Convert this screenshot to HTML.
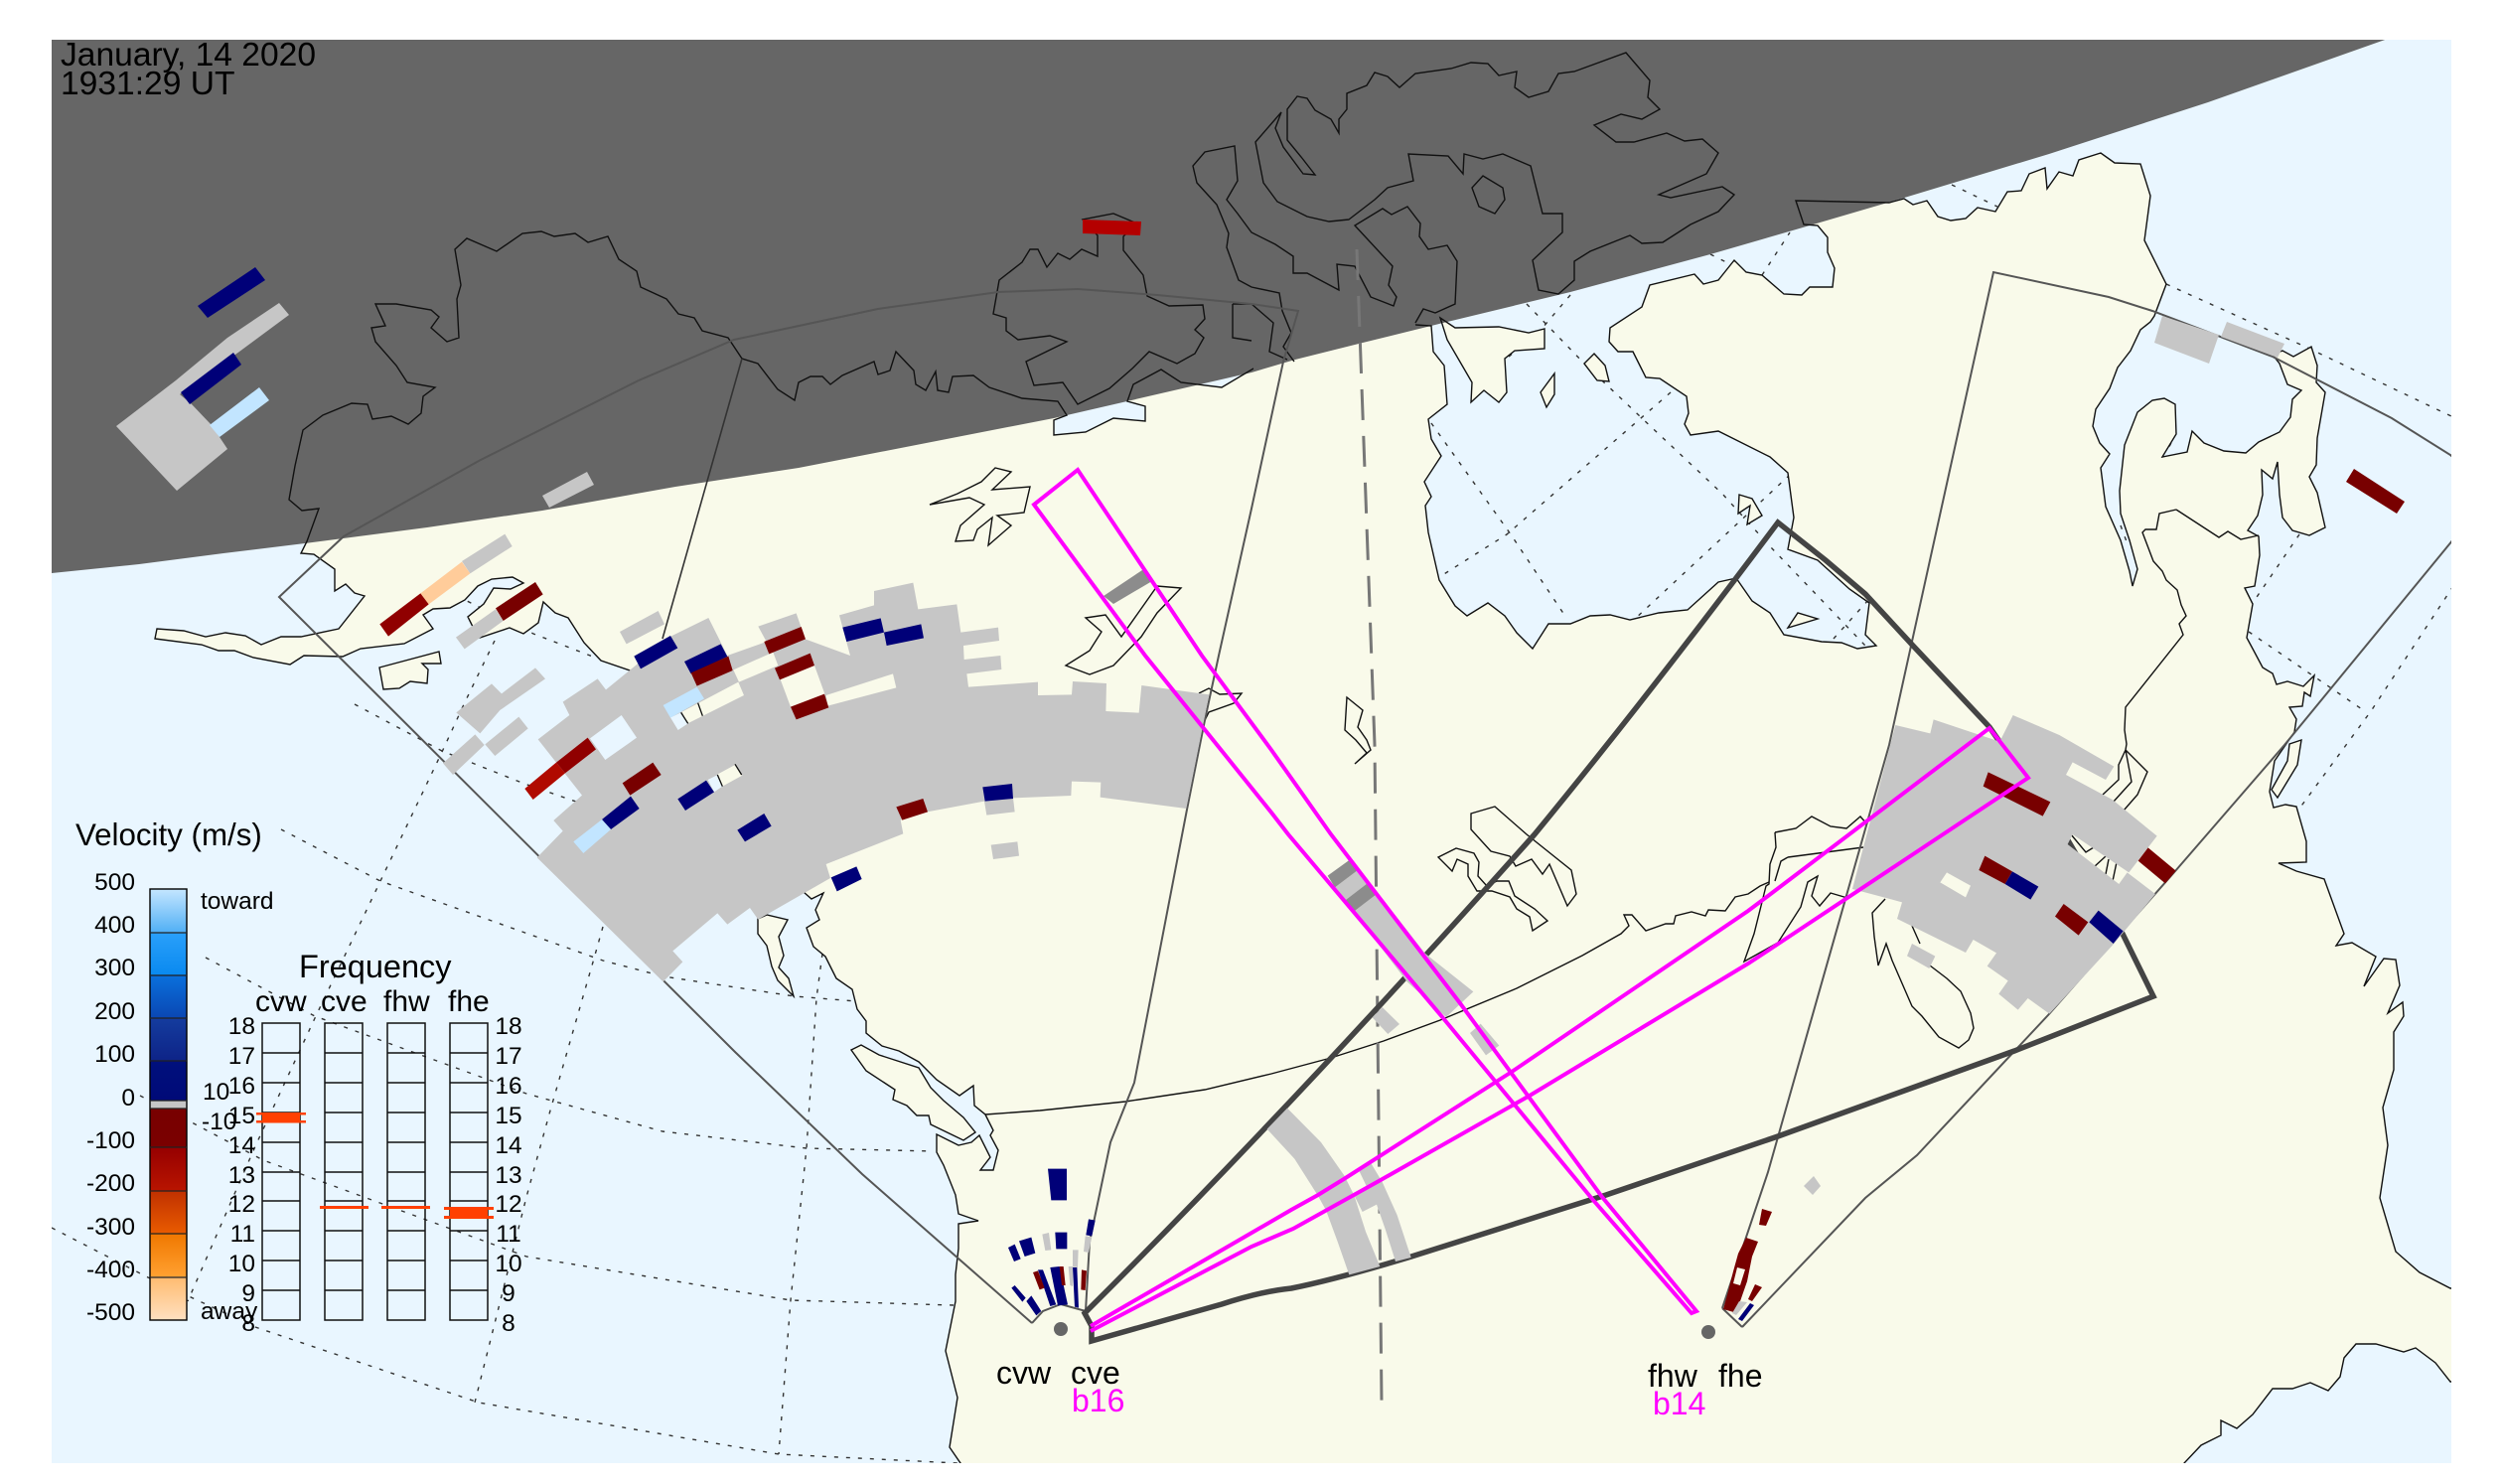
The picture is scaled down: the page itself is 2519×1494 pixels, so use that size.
<!DOCTYPE html>
<html><head><meta charset="utf-8"><style>html,body{margin:0;padding:0;background:#fff}svg{display:block}text{font-family:"Liberation Sans",sans-serif;fill:#000}</style></head><body>
<svg xmlns="http://www.w3.org/2000/svg" width="2519" height="1494" viewBox="0 0 2519 1494">
<defs>
<clipPath id="fr"><rect x="52" y="40" width="2416" height="1433"/></clipPath>
<linearGradient id="vb" x1="0" y1="895" x2="0" y2="1329" gradientUnits="userSpaceOnUse">
<stop offset="0" stop-color="#c4e6ff"/><stop offset=".1" stop-color="#52b0f5"/><stop offset=".101" stop-color="#2aa0fa"/><stop offset=".198" stop-color="#0a8af0"/><stop offset=".2" stop-color="#0a70dc"/><stop offset=".297" stop-color="#0a48b4"/><stop offset=".3" stop-color="#143c9e"/><stop offset=".396" stop-color="#0e2488"/><stop offset=".4" stop-color="#00107c"/><stop offset=".49" stop-color="#000a78"/><stop offset=".491" stop-color="#c6c6c6"/><stop offset=".51" stop-color="#c6c6c6"/><stop offset=".511" stop-color="#780000"/><stop offset=".598" stop-color="#7a0000"/><stop offset=".6" stop-color="#960000"/><stop offset=".698" stop-color="#b81400"/><stop offset=".7" stop-color="#c03000"/><stop offset=".797" stop-color="#e85a00"/><stop offset=".8" stop-color="#f07800"/><stop offset=".898" stop-color="#ffa030"/><stop offset=".9" stop-color="#ffbb70"/><stop offset="1" stop-color="#ffe0c0"/>
</linearGradient>
<g id="coast">
<path d="M967,1520L967,1473 956,1457 964,1407 952,1360 962,1310 962,1283 965,1257 965,1232 985,1229 965,1222 962,1203 950,1173 943,1160 943,1142 965,1153 978,1150 986,1143 997,1165 987,1178 1000,1178 1005,1158 997,1143 1000,1138 992,1122 981,1113 980,1093 966,1103 943,1087 925,1069 905,1058 888,1053 872,1040 872,1028 863,1016 858,996 842,985 831,963 819,953 812,934 825,926 821,916 829,899 817,905 809,898 770,860 727,792 722,780 693,728 686,717 640,677 605,665 588,647 572,622 559,617 547,606 542,627 527,638 513,632 483,642 475,629 471,621 487,608 497,592 514,593 527,587 516,581 495,583 481,590 468,604 453,612 436,613 426,619 436,633 407,648 363,653 345,661 306,660 292,669 255,662 236,655 220,655 203,649 156,643 158,633 185,635 207,641 227,637 247,640 263,649 283,641 303,641 341,633 367,600 357,597 348,588 337,595 337,573 316,558 303,557 309,545 321,512 304,514 291,503 297,469 305,433 325,418 354,406 370,407 375,422 394,419 411,427 424,416 426,399 438,390 410,385 399,368 378,344 374,330 388,328 378,306 399,306 434,312 442,319 434,330 450,344 462,340 460,301 464,287 458,251 470,240 500,253 526,235 545,233 558,238 579,235 592,244 612,238 623,261 641,273 645,289 671,301 683,316 699,320 707,333 733,340 747,361 763,366 783,392 800,403 804,385 816,379 828,379 836,387 848,378 880,364 884,377 896,373 902,354 920,373 922,387 932,393 942,374 944,393 955,395 959,379 980,378 996,390 1029,401 1065,404 1074,418 1061,423 1061,438 1093,435 1121,421 1153,424 1153,409 1135,404 1141,387 1169,372 1189,385 1230,390 1262,371 1303,359 1372,341 1425,327 1441,328 1443,354 1454,368 1457,407 1438,422 1441,442 1451,459 1434,485 1441,500 1435,509 1438,536 1449,584 1465,610 1477,620 1498,607 1515,620 1527,637 1543,653 1559,628 1581,628 1601,620 1621,619 1641,624 1670,617 1699,614 1730,586 1748,582 1764,605 1782,617 1796,639 1834,646 1854,647 1870,653 1889,650 1878,639 1882,607 1862,593 1830,564 1800,553 1806,521 1800,476 1782,460 1730,434 1702,438 1696,427 1700,416 1698,399 1671,381 1657,380 1644,354 1629,354 1620,344 1621,330 1653,309 1661,287 1706,276 1715,286 1730,282 1746,262 1758,274 1774,277 1796,296 1814,297 1822,289 1845,289 1847,270 1840,254 1840,239 1830,227 1816,226 1808,202 1902,204 1917,200 1926,206 1940,202 1951,218 1964,222 1979,220 1991,209 2009,213 2021,193 2035,192 2043,175 2059,169 2061,190 2073,173 2087,177 2093,161 2115,154 2129,164 2155,165 2165,197 2159,242 2181,286 2169,318 2165,324 2155,332 2145,353 2132,370 2124,391 2110,412 2107,429 2114,446 2124,457 2115,471 2120,510 2135,544 2144,575 2147,590 2152,573 2144,544 2135,517 2134,494 2139,448 2152,415 2167,403 2179,401 2190,407 2191,437 2177,460 2202,455 2207,434 2219,446 2239,454 2261,456 2274,445 2295,435 2306,420 2308,402 2317,393 2303,387 2295,366 2288,357 2298,353 2309,359 2327,349 2333,368 2332,385 2341,395 2333,441 2332,468 2325,480 2333,496 2341,531 2325,539 2308,534 2298,521 2295,498 2293,465 2288,482 2277,473 2278,498 2273,519 2263,534 2274,540 2275,559 2270,590 2260,592 2268,608 2262,642 2269,655 2278,672 2288,678 2292,689 2303,686 2319,691 2330,680 2326,701 2320,697 2318,711 2305,712 2312,724 2310,737 2290,766 2285,797 2289,813 2301,810 2312,812 2322,847 2322,868 2294,869 2312,877 2340,885 2360,940 2352,952 2368,949 2392,963 2380,993 2400,965 2412,966 2416,992 2404,1020 2419,1009 2420,1023 2410,1039 2410,1077 2399,1115 2404,1153 2396,1206 2412,1260 2436,1281 2467,1297 2530,1297 2530,1391 2467,1391 2452,1372 2432,1357 2420,1361 2392,1353 2372,1353 2360,1367 2356,1386 2344,1400 2326,1392 2308,1398 2288,1398 2268,1424 2252,1438 2236,1430 2236,1445 2216,1455 2199,1473 2199,1520Z"/>
<path d="M382,672L442,656 444,668 425,668 431,674 430,688 413,686 402,693 386,694Z"/>
<path d="M857,1057L867,1052 885,1062 925,1075 937,1095 950,1108 970,1125 982,1140 970,1148 937,1132 935,1123 923,1123 913,1113 899,1107 901,1097 872,1078Z"/>
<path d="M763,925L763,940 772,952 777,973 783,987 799,1003 794,985 784,974 789,962 784,943 793,926 772,921Z"/>
<path d="M1450,320L1465,330 1509,329 1539,335 1555,331 1555,351 1525,353 1515,361 1517,395 1509,405 1494,393 1481,405 1482,385 1457,342Z"/>
<path d="M1595,366L1605,356 1616,368 1620,384 1608,383Z"/>
<path d="M1551,395L1565,376 1565,397 1557,410Z"/>
<path d="M1751,498L1764,502 1774,519 1759,528 1762,509 1750,517Z"/>
<path d="M1800,632L1810,617 1830,623Z"/>
<path d="M2317,745L2313,770 2293,803 2287,795 2303,766 2305,749Z"/>
</g>
</defs>
<rect width="2519" height="1494" fill="#fff"/>
<g clip-path="url(#fr)">
<rect x="52" y="40" width="2416" height="1433" fill="#e9f6ff"/>
<g fill="none" stroke="#333" stroke-width="1.4" stroke-dasharray="4 8">
<path d="M357,709L445,756 528,789 580,807"/>
<path d="M283,835L383,887 607,967 668,983 800,1003 862,1008"/>
<path d="M207,964L317,1023 530,1101 667,1139 812,1156 940,1159"/>
<path d="M141,1103L193,1130 265,1168 530,1265 796,1309 960,1314"/>
<path d="M52,1236L149,1286 257,1336 482,1412 784,1464 964,1473"/>
<path d="M460,600L537,638 602,663"/>
<path d="M498,645L468,707 445,757 383,887 317,1025 257,1154 189,1310"/>
<path d="M607,933L598,965 554,1118 530,1205 478,1412"/>
<path d="M828,960L822,1005 812,1156 796,1309 784,1464"/>
<path d="M1537,306L1597,368 1653,421 1734,497 1782,550 1878,650"/>
<path d="M1441,426L1521,538 1577,622"/>
<path d="M1581,297L1553,330 1477,395"/>
<path d="M1682,395L1517,538 1449,581"/>
<path d="M1802,478L1645,624"/>
<path d="M1965,186L2011,208M1722,256L1746,268M1774,277L1802,234M1846,643L1882,603"/>
<path d="M2181,286L2321,349 2470,420M2191,435L2181,456M2315,538L2268,607M2264,636L2378,714M2470,590L2387,716 2315,814M2135,529L2142,548"/>
</g>
<use href="#coast" fill="#f9faea"/>
<polygon fill="#666" points="40,30 2420,30 2404,39 2223,103 2063,155 1914,200 1822,227 1722,256 1581,294 1453,325 1372,345 1304,362 1260,375 1061,421 804,471 680,490 546,514 430,531 307,547 225,557 140,568 52,577 40,578"/>
<use href="#coast" fill="none" stroke="#111" stroke-width="1.4"/>
<path d="M1262,371L1303,359 1372,341 1425,327" fill="none" stroke="#666" stroke-width="3.5"/>
<g fill="none" stroke="#111" stroke-width="1.4">
<path d="M1105,258L1105,237 1090,221 1121,215 1145,225 1131,238 1131,252 1151,277 1155,298 1177,308 1211,307 1213,321 1203,332 1212,340 1203,356 1185,366 1157,354 1140,371 1117,391 1085,407 1070,385 1041,388 1033,364 1074,344 1057,338 1025,342 1013,333 1013,320 1000,316 1006,282 1029,264 1037,251 1045,251 1054,269 1065,255 1077,261 1089,251Z"/>
<path d="M1358,221L1338,223 1316,218 1286,203 1272,184 1264,143 1290,113 1284,129 1292,148 1312,175 1324,176 1310,158 1296,141 1296,110 1306,97 1316,99 1324,111 1340,120 1348,134 1348,120 1356,110 1356,94 1376,86 1384,73 1397,77 1409,88 1425,74 1461,69 1481,63 1498,64 1509,76 1527,72 1525,88 1539,98 1559,92 1569,74 1585,72 1637,53 1661,81 1659,98 1671,110 1653,120 1632,115 1605,126 1627,143 1645,143 1678,134 1696,142 1714,140 1730,154 1718,175 1670,196 1682,199 1734,188 1746,196 1730,213 1702,226 1674,244 1653,245 1641,237 1601,253 1585,263 1585,282 1569,296 1549,292 1543,262 1573,234 1573,215 1553,215 1541,167 1513,155 1493,160 1474,155 1473,175 1458,157 1418,155 1423,182 1397,189 1384,201Z"/>
<path d="M1493,177L1513,189 1515,201 1505,215 1489,208 1482,189Z"/>
<path d="M1425,325L1433,311 1445,315 1465,306 1467,263 1457,247 1438,251 1429,238 1430,225 1417,208 1401,216 1392,210 1364,227 1402,268 1398,287 1406,299 1403,308 1380,299 1364,268 1346,266 1348,292 1316,275 1302,275 1302,258 1284,246 1260,234 1246,215 1235,201 1246,182 1243,147 1213,153 1201,167 1205,184 1225,206 1237,235 1235,249 1247,282 1260,289 1288,295 1291,313 1300,335 1292,349 1303,364"/>
<path d="M1241,306L1241,340 1260,343M1241,306L1260,306 1282,325 1278,354 1296,362"/>
<path d="M936,508L964,497 988,485 1002,471 1018,475 999,493 1037,490 1031,516 1004,519 1018,529 995,549 999,521 984,533 980,544 962,545 967,529 991,508 976,501Z"/>
<path d="M1093,622L1113,619 1129,641 1165,590 1189,592 1165,617 1149,641 1121,670 1097,679 1073,670 1097,655 1109,636Z"/>
<path d="M1207,698L1217,693 1228,699 1250,698 1242,708 1217,717 1213,725"/>
<path d="M2191,513L2174,517 2171,533 2160,533 2157,536 2168,565 2177,575 2181,584 2192,594 2196,609 2201,620 2194,628 2198,639 2140,712 2139,735 2141,749 2140,755"/>
<path d="M2191,513L2234,541 2243,535 2256,543 2274,539"/>
<path d="M2140,755L2162,777 2152,800 2138,816M2140,755L2146,787 2127,808M2140,755L2133,770 2133,785 2117,800"/>
<path d="M2085,840L2100,858 2108,853M2120,862L2108,873M2123,865L2120,880M2131,868L2127,887"/>
<path d="M1898,905L1885,919 1887,943 1891,972 1899,950 1905,967 1925,1013 1935,1023 1952,1044 1972,1055 1982,1047 1987,1035 1984,1020 1974,998 1960,985 1943,972"/>
<path d="M1925,932L1933,950"/>
<path d="M1787,838L1808,834 1824,822 1843,832 1859,834 1873,822 1880,830"/>
<path d="M1787,838L1788,853 1782,870 1781,890 1778,892 1766,940 1756,968 1790,949 1813,913 1820,888 1830,882 1824,902 1832,912 1843,899 1860,904"/>
<path d="M1800,863L1876,853M1800,863L1793,867 1787,887"/>
<path d="M992,1122L1047,1118 1133,1109 1213,1097 1280,1081 1340,1065 1393,1048 1450,1027 1527,995 1593,962 1632,940 1640,932 1635,921 1643,921 1657,937 1677,930 1685,930 1687,922 1703,918 1717,922 1720,916 1737,917 1747,903 1760,900 1772,892 1781,888"/>
<path d="M1448,863L1466,854 1484,859 1489,868 1488,882 1497,892 1507,887 1519,887 1525,902 1545,915 1558,927 1543,937 1540,923 1527,915 1520,903 1502,897 1487,897 1478,882 1478,870 1467,865 1462,877Z"/>
<path d="M1481,819L1505,812 1537,840 1582,876 1587,900 1578,912 1560,870 1553,880 1542,865 1526,872 1520,862 1501,857 1481,835Z"/>
<path d="M1356,702L1372,715 1367,732 1376,745 1380,755 1364,769 1376,758 1365,745 1354,735Z"/>
</g>
<!-- thin FOV lines -->
<g fill="none" stroke="#555" stroke-width="2">
<path d="M1039,1332L868,1182 740,1059 281,601 346,540 482,464 643,383 739,342 884,311 1005,294 1085,291 1165,297 1260,306 1307,313 1292,364 1260,512 1227,660 1213,725 1195,815 1142,1090 1118,1150 1097,1250 1093,1320 1068,1313 1050,1320 1039,1332"/>
<path d="M747,361L667,643" stroke="#333" stroke-width="1.6"/>
<path d="M1754,1336L1878,1206 1930,1163 2062,1022 2190,877 2300,750 2530,470"/>
<path d="M1734,1317L1780,1180 1902,750 2007,274 2123,299 2167,313 2288,359 2408,421 2467,458 2530,515"/>
<path d="M1734,1317L1754,1336"/>
</g>
<path d="M1366,251L1384,750 1391,1413" fill="none" stroke="#777" stroke-width="3" stroke-dasharray="31 16"/>
<path d="M1092,1322Q1300,1115 1545,840Q1660,700 1790,526L1838,564 1878,598 1926,650 2003,732 2082,846 2137,940 2168,1003 2028,1058 1790,1144 1617,1203 1421,1265Q1345,1288 1300,1297Q1270,1300 1230,1313L1099,1350 1099,1335Z" fill="none" stroke="#444" stroke-width="5.5"/>
<!-- West echoes -->
<g transform="translate(520,560) scale(.33333)">
<polygon fill="#c6c6c6" points="62,910 140,830 112,798 198,722 65,553 160,480 140,440 245,370 270,403 470,240 580,186 637,300 755,258 730,212 845,172 872,250 1008,300 975,178 1080,148 1080,105 1198,80 1213,160 1330,145 1342,230 1455,215 1458,255 1350,270 1352,312 1462,300 1465,342 1360,355 1365,395 1575,380 1575,420 1677,418 1680,378 1782,384 1780,468 1880,473 1888,390 2092,418 2023,762 1763,728 1765,683 1677,680 1675,723 1500,730 1505,772 1420,782 1413,740 1240,772 1160,797 1168,838 935,930 948,972 730,1097 705,1062 637,1112 607,1078 472,1192 502,1225 443,1285"/>
<polygon fill="#c6c6c6" points="312,228 428,165 447,205 332,265"/>
<polygon fill="#c6c6c6" points="1433,872 1513,862 1518,905 1440,915"/>
<polygon fill="#f9faea" points="655,343 775,290 790,330 672,380"/>
<polygon fill="#f9faea" points="797,372 900,330 932,418 828,455"/>
<polygon fill="#f9faea" points="935,420 1137,355 1147,397 940,452"/>
<polygon fill="#f9faea" points="500,470 670,380 687,420 517,505"/>
<polygon fill="#e9f6ff" points="465,487 497,472 518,505 488,525"/>
<polygon fill="#e9f6ff" points="222,550 317,480 363,548 268,615"/>
<polygon fill="#f9faea" points="608,658 660,630 682,662 622,695"/>
<polygon fill="#e9f6ff" points="578,675 608,660 622,695 597,712"/>
<polygon fill="#000078" points="355,302 465,240 487,277 375,340"/>
<polygon fill="#000078" points="507,318 617,265 637,303 527,355"/>
<polygon fill="#780000" points="527,352 640,302 653,345 545,392"/>
<polygon fill="#c2e5ff" points="443,450 545,395 567,430 465,488"/>
<polygon fill="#780000" points="748,258 860,213 873,250 763,295"/>
<polygon fill="#780000" points="780,338 887,293 900,330 795,373"/>
<polygon fill="#780000" points="828,455 930,416 943,457 845,493"/>
<polygon fill="#000078" points="985,215 1100,187 1110,230 997,258"/>
<polygon fill="#000078" points="1110,230 1222,205 1230,247 1118,270"/>
<polygon fill="#780000" points="320,685 412,623 437,660 343,722"/>
<polygon fill="#000078" points="258,795 345,725 371,762 285,825"/>
<polygon fill="#c2e5ff" points="172,862 258,795 285,825 202,897"/>
<polygon fill="#b00a00" points="25,702 120,623 147,655 50,735"/>
<polygon fill="#900000" points="120,623 215,548 240,583 147,655"/>
<polygon fill="#000078" points="487,733 573,677 597,712 510,768"/>
<polygon fill="#000078" points="667,827 748,777 770,815 690,862"/>
<polygon fill="#780000" points="1147,757 1228,732 1242,772 1165,797"/>
<polygon fill="#000078" points="1408,697 1497,687 1500,732 1415,740"/>
<polygon fill="#000078" points="950,970 1027,937 1043,975 968,1012"/>
<path d="M497,472L518,505M548,443L562,482M607,660L622,695M660,628L680,660" fill="none" stroke="#111" stroke-width="4"/>
</g>
<g transform="translate(140,520) scale(.33333)">
<polygon fill="#c6c6c6" points="1105,53 1127,90 1000,172 975,135"/>
<polygon fill="#ffcc9a" points="975,137 1000,172 875,265 850,232"/>
<polygon fill="#900000" points="850,232 875,265 753,362 727,325"/>
<polygon fill="#780000" points="1197,198 1220,235 1100,315 1077,277"/>
<polygon fill="#c6c6c6" points="1077,280 1100,315 983,400 957,365"/>
<polygon fill="#c6c6c6" points="1197,457 1227,490 1090,585 1030,655 958,592 1065,505 1095,535"/>
<polygon fill="#c6c6c6" points="1147,605 1175,640 1075,723 1045,688"/>
<polygon fill="#c6c6c6" points="1015,658 1043,690 948,780 918,745"/>
</g>
<!-- night echoes -->
<polygon fill="#c6c6c6" points="117,429 177,383 229,340 281,305 291,317 241,354 181,397 193,407 213,428 229,452 178,494"/>
<polygon fill="#000078" points="257,269 267,282 209,320 199,308"/>
<polygon fill="#000078" points="235,355 243,367 191,407 182,395"/>
<polygon fill="#c2e5ff" points="261,390 271,403 221,440 211,428"/>
<polygon fill="#c6c6c6" points="591,475 598,488 553,511 546,499"/>
<polygon fill="#b40000" points="1090,221 1149,223 1148,237 1090,235"/>
<polygon fill="#8c8c8c" points="1153,572 1160,585 1121,608 1111,600"/>
<polygon fill="#c6c6c6" points="2177,318 2234,337 2224,366 2169,345"/>
<polygon fill="#c6c6c6" points="2242,324 2300,346 2293,360 2236,339"/>
<polygon fill="#780000" points="2370,472 2421,505 2413,517 2362,485"/>
<!-- East echoes -->
<g transform="translate(1780,680) scale(.33333)">
<polygon fill="#c6c6c6" points="385,150 490,175 500,133 640,180 700,200 740,120 880,180 1045,275 1020,315 920,262 900,300 1040,375 1175,485 1090,595 920,480 905,510 1060,630 1085,595 1170,660 1045,810 850,1022 785,975 755,1010 697,962 725,922 662,878 690,838 620,798 597,837 390,735 405,685 255,645"/>
<polygon fill="#f9faea" points="520,625 540,595 612,635 597,670"/>
<polygon fill="#c6c6c6" points="435,810 505,848 487,885 420,847"/>
<polygon fill="#780000" points="665,292 853,382 830,425 650,335"/>
<polygon fill="#780000" points="655,545 738,592 716,630 637,588"/>
<polygon fill="#000078" points="738,592 817,638 793,677 716,630"/>
<polygon fill="#780000" points="893,690 967,745 938,785 867,728"/>
<polygon fill="#000078" points="998,710 1073,772 1043,810 970,745"/>
<polygon fill="#780000" points="1148,520 1232,590 1200,628 1118,560"/>
</g>
<!-- Center echoes -->
<g transform="translate(1260,840) scale(.33333)">
<polygon fill="#c6c6c6" points="252,160 325,105 525,360 670,475 588,552 470,445"/>
<polygon fill="#8c8c8c" points="230,125 295,78 325,105 252,160"/>
<polygon fill="#8c8c8c" points="285,198 350,148 378,180 310,232"/>
<polygon fill="#c6c6c6" points="395,522 447,573 412,603 365,553"/>
<polygon fill="#c6c6c6" points="692,572 748,638 708,667 660,600"/>
<polygon fill="#c6c6c6" points="108,827 210,930 280,1030 310,1090 345,1200 388,1305 295,1330 260,1230 225,1135 200,1090 130,980 47,890"/>
<polygon fill="#c6c6c6" points="322,1010 360,992 395,1050 440,1150 482,1278 435,1290 405,1195 378,1118 335,1140 310,1090 350,1068"/>
</g>
<!-- near radar cells -->
<g transform="translate(950,1150) scale(.33333)">
<polygon fill="#000078" points="315,80 372,80 372,175 325,175"/>
<polygon fill="#000078" points="228,298 265,287 277,335 245,345"/>
<polygon fill="#000078" points="195,318 215,308 233,352 213,360"/>
<polygon fill="#000078" points="337,272 373,272 373,322 340,322"/>
<polygon fill="#000078" points="438,232 458,236 448,283 430,280"/>
<polygon fill="#c6c6c6" points="298,278 318,273 325,325 307,327"/>
<polygon fill="#c6c6c6" points="428,283 448,285 438,333 423,330"/>
<polygon fill="#c6c6c6" points="390,325 407,325 405,378 390,377"/>
<polygon fill="#c6c6c6" points="377,375 390,375 390,435 382,432"/>
<polygon fill="#000078" points="322,378 350,375 375,490 345,493"/>
<polygon fill="#000078" points="285,385 300,385 340,490 322,495"/>
<polygon fill="#000078" points="390,378 403,378 408,500 396,497"/>
<polygon fill="#000078" points="250,480 265,463 295,510 280,523"/>
<polygon fill="#000078" points="205,440 215,432 248,470 238,482"/>
<polygon fill="#780000" points="270,393 285,388 305,440 290,445"/>
<polygon fill="#780000" points="350,375 362,375 368,432 357,432"/>
<polygon fill="#780000" points="417,385 432,388 428,447 415,445"/>
</g>
<polygon fill="#780000" points="1774,1217 1784,1220 1778,1234 1771,1233"/>
<polygon fill="#780000" points="1758,1246 1770,1250 1764,1265 1759,1290 1752,1310 1749,1322 1735,1318 1740,1300 1745,1280 1750,1262"/>
<polygon fill="#f9faea" points="1749,1276 1757,1278 1752,1294 1745,1292"/>
<polygon fill="#780000" points="1767,1293 1774,1296 1764,1310 1760,1308"/>
<polygon fill="#c6c6c6" points="1751,1310 1759,1311 1748,1324 1744,1322"/>
<polygon fill="#000078" points="1762,1312 1766,1314 1754,1330 1750,1328"/>
<polygon fill="#c6c6c6" points="1826,1184 1833,1194 1825,1203 1816,1194"/>
<!-- magenta beams -->
<g fill="none" stroke="#ff00ff" stroke-width="4">
<path d="M1098,1335L1250,1247 1300,1218 1327,1203 1353,1187 1522,1079 1760,917 1780,902 2003,733 2042,783 1780,957 1760,970 1540,1103 1390,1188 1302,1237 1260,1255 1098,1340"/>
<path d="M1085,473L1210,660 1280,755 1340,840 1470,1010 1613,1205 1708,1320 1703,1322 1603,1207 1453,1025 1297,840 1280,818 1153,660 1041,508Z"/>
</g>
<circle cx="1068" cy="1338" r="7" fill="#666"/>
<circle cx="1720" cy="1341" r="7" fill="#666"/>
</g>
<!-- Colorbar -->
<rect x="151" y="895" width="37" height="434" fill="url(#vb)" stroke="#000" stroke-width="1.4"/>
<path d="M151,939H188M151,982H188M151,1025H188M151,1068H188M151,1108H188M151,1116H188M151,1155H188M151,1199H188M151,1242H188M151,1286H188" stroke="#222" stroke-width="1.3" fill="none"/>
<g font-size="24.5" text-anchor="end">
<text x="136" y="896">500</text><text x="136" y="939">400</text><text x="136" y="982">300</text><text x="136" y="1026">200</text><text x="136" y="1069">100</text><text x="136" y="1113">0</text><text x="136" y="1156">-100</text><text x="136" y="1199">-200</text><text x="136" y="1243">-300</text><text x="136" y="1286">-400</text><text x="136" y="1329">-500</text>
</g>
<text x="76" y="851" font-size="31.3">Velocity (m/s)</text>
<text x="202" y="915" font-size="24.5">toward</text>
<text x="202" y="1328" font-size="24.5">away</text>
<text x="204" y="1107" font-size="24.5">10</text>
<text x="203" y="1137" font-size="24.5">-10</text>
<!-- Frequency panel -->
<text x="301" y="984" font-size="32.5">Frequency</text>
<g font-size="30"><text x="257" y="1018">cvw</text><text x="323" y="1018">cve</text><text x="386" y="1018">fhw</text><text x="451" y="1018">fhe</text></g>
<g fill="none" stroke="#111" stroke-width="1.5">
<rect x="264" y="1030" width="38" height="299"/><rect x="327" y="1030" width="38" height="299"/><rect x="390" y="1030" width="38" height="299"/><rect x="453" y="1030" width="38" height="299"/>
<path d="M264,1060H302M264,1090H302M264,1120H302M264,1150H302M264,1180H302M264,1209H302M264,1239H302M264,1269H302M264,1299H302M327,1060H365M327,1090H365M327,1120H365M327,1150H365M327,1180H365M327,1209H365M327,1239H365M327,1269H365M327,1299H365M390,1060H428M390,1090H428M390,1120H428M390,1150H428M390,1180H428M390,1209H428M390,1239H428M390,1269H428M390,1299H428M453,1060H491M453,1090H491M453,1120H491M453,1150H491M453,1180H491M453,1209H491M453,1239H491M453,1269H491M453,1299H491"/>
</g>
<g fill="#ff4000">
<rect x="264" y="1120" width="38" height="10"/><rect x="258" y="1120" width="50" height="2.5"/><rect x="258" y="1128" width="50" height="2.5"/>
<rect x="322" y="1214" width="49" height="3"/><rect x="384" y="1214" width="49" height="3"/>
<rect x="453" y="1215" width="38" height="11"/><rect x="447" y="1215" width="50" height="3"/><rect x="447" y="1224" width="50" height="3"/>
</g>
<g font-size="24.5" text-anchor="end">
<text x="257" y="1041">18</text><text x="257" y="1071">17</text><text x="257" y="1101">16</text><text x="257" y="1131">15</text><text x="257" y="1161">14</text><text x="257" y="1191">13</text><text x="257" y="1220">12</text><text x="257" y="1250">11</text><text x="257" y="1280">10</text><text x="257" y="1310">9</text><text x="257" y="1340">8</text>
</g>
<g font-size="24.5" text-anchor="middle">
<text x="512" y="1041">18</text><text x="512" y="1071">17</text><text x="512" y="1101">16</text><text x="512" y="1131">15</text><text x="512" y="1161">14</text><text x="512" y="1191">13</text><text x="512" y="1220">12</text><text x="512" y="1250">11</text><text x="512" y="1280">10</text><text x="512" y="1310">9</text><text x="512" y="1340">8</text>
</g>
<!-- Title -->
<text x="61" y="66" font-size="33.6">January, 14 2020</text>
<text x="61" y="95" font-size="33.6">1931:29 UT</text>
<!-- Radar labels -->
<g font-size="32"><text x="1003" y="1393">cvw</text><text x="1078" y="1393">cve</text><text x="1659" y="1396">fhw</text><text x="1730" y="1396">fhe</text></g>
<text x="1079" y="1421" font-size="32" style="fill:#ff00ff">b16</text>
<text x="1664" y="1424" font-size="32" style="fill:#ff00ff">b14</text>
</svg>
</body></html>
